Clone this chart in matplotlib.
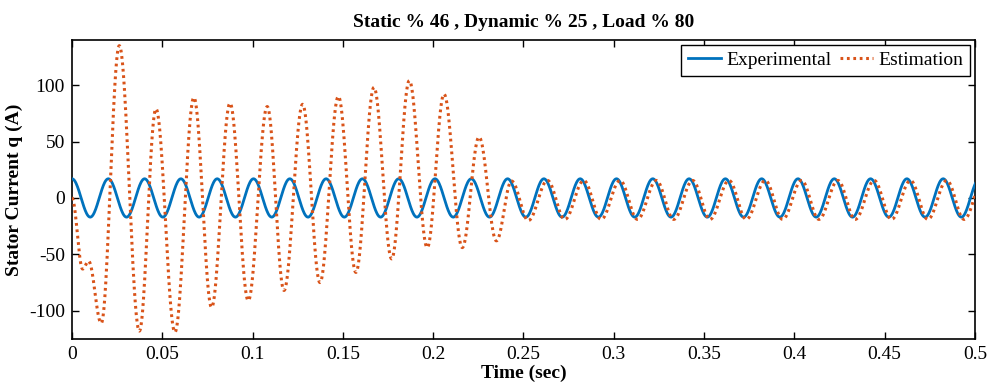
import numpy as np
import matplotlib
matplotlib.use("Agg")
import matplotlib.pyplot as plt
from matplotlib.ticker import FuncFormatter

# ---------------- data (extrema) ----------------
title = "Static % 46 , Dynamic % 25 , Load % 80"
xlabel = "Time (sec)"
ylabel = "Stator Current q (A)"
series_names = ["Experimental", "Estimation"]

exp_t = [0.0000, 0.0101, 0.0201, 0.0302, 0.0402, 0.0503, 0.0603, 0.0704, 0.0804, 0.0905,
         0.1005, 0.1106, 0.1206, 0.1307, 0.1407, 0.1508, 0.1608, 0.1709, 0.1809, 0.1910,
         0.2010, 0.2111, 0.2211, 0.2312, 0.2412, 0.2513, 0.2613, 0.2714, 0.2814, 0.2915,
         0.3015, 0.3116, 0.3216, 0.3317, 0.3417, 0.3518, 0.3618, 0.3719, 0.3819, 0.3920,
         0.4020, 0.4121, 0.4221, 0.4322, 0.4422, 0.4523, 0.4623, 0.4724, 0.4824, 0.4925,
         0.5025]
exp_v = [17, -17, 17, -17, 17, -17, 17, -17, 17, -17,
         17, -17, 17, -17, 17, -17, 17, -17, 17, -17,
         17, -17, 17, -17, 17, -17, 17, -17, 17, -17,
         17, -17, 17, -17, 17, -17, 17, -17, 17, -17,
         17, -17, 17, -17, 17, -17, 17, -17, 17, -17,
         17]

est_t = [0.0000, 0.0059, 0.0092, 0.0162, 0.0262, 0.0373, 0.0465, 0.0570, 0.0675, 0.0773,
         0.0875, 0.0976, 0.1081, 0.1174, 0.1277, 0.1373, 0.1475, 0.1572, 0.1672, 0.1770,
         0.1868, 0.1967, 0.2060, 0.2161, 0.2254, 0.2350, 0.2434, 0.2527, 0.2633, 0.2729,
         0.2834, 0.2930, 0.3035, 0.3131, 0.3236, 0.3332, 0.3437, 0.3533, 0.3638, 0.3734,
         0.3839, 0.3935, 0.4040, 0.4136, 0.4241, 0.4337, 0.4442, 0.4538, 0.4643, 0.4739,
         0.4844, 0.4940, 0.5045]
est_v = [0, -63, -56, -111, 135, -118, 79, -119, 89, -97,
         84, -91, 81, -82, 83, -75, 90, -66, 98, -54,
         104, -44, 92, -44, 54, -38, 15, -20, 15.5, -19,
         15.5, -19, 15.5, -19, 15.5, -19, 15.5, -19, 15.5, -19,
         15.5, -19, 15.5, -19, 15.5, -19, 15.5, -19, 15.5, -19,
         15.5, -19, 15.5]

xticks = [0, 0.05, 0.1, 0.15, 0.2, 0.25, 0.3, 0.35, 0.4, 0.45, 0.5]
yticks = [-100, -50, 0, 50, 100]


def waveform(t_ext, v_ext, n=40):
    """Draw a smooth half-cosine swing between consecutive read extrema."""
    ts, vs = [], []
    for i in range(len(t_ext) - 1):
        t0, t1 = t_ext[i], t_ext[i + 1]
        v0, v1 = v_ext[i], v_ext[i + 1]
        s = np.linspace(0, 1, n, endpoint=False)
        ts.append(t0 + (t1 - t0) * s)
        vs.append(v0 + (v1 - v0) * (1 - np.cos(np.pi * s)) / 2)
    ts.append([t_ext[-1]])
    vs.append([v_ext[-1]])
    return np.concatenate(ts), np.concatenate(vs)


plt.rcParams["font.family"] = ["Liberation Serif", "DejaVu Serif"]

fig = plt.figure(figsize=(9.89, 3.83), dpi=100)
ax = fig.add_axes([0.0728, 0.1149, 0.9130, 0.7807])

tx, vx = waveform(exp_t, exp_v)
te, ve = waveform(est_t, est_v)
ax.plot(tx, vx, color="#0072BD", lw=2.0, label=series_names[0], zorder=3)
ax.plot(te, ve, color="#D95319", lw=2.2, ls=(0, (0.9, 1.2)), label=series_names[1], zorder=4)

ax.set_xlim(0, 0.5)
ax.set_ylim(-125, 140)
ax.set_xticks(xticks)
ax.set_yticks(yticks)
ax.xaxis.set_major_formatter(FuncFormatter(lambda v, p: f"{v:g}"))
ax.yaxis.set_major_formatter(FuncFormatter(lambda v, p: f"{v:g}"))
ax.tick_params(direction="in", length=5, width=1, top=True, right=True,
               labelsize=14, pad=5)
for sp in ax.spines.values():
    sp.set_linewidth(1.2)

ax.set_title(title, fontsize=14, fontweight="bold", pad=9)
ax.set_xlabel(xlabel, fontsize=14, fontweight="bold", labelpad=1)
ax.set_ylabel(ylabel, fontsize=14, fontweight="bold", labelpad=4)

leg = ax.legend(loc="upper right", ncol=2, fontsize=14, frameon=True, fancybox=False,
                edgecolor="black", framealpha=1, handlelength=1.7, handletextpad=0.3,
                columnspacing=0.4, borderpad=0.35, borderaxespad=0.25)
leg.get_frame().set_linewidth(1.0)

fig.savefig("out.png", dpi=100)
